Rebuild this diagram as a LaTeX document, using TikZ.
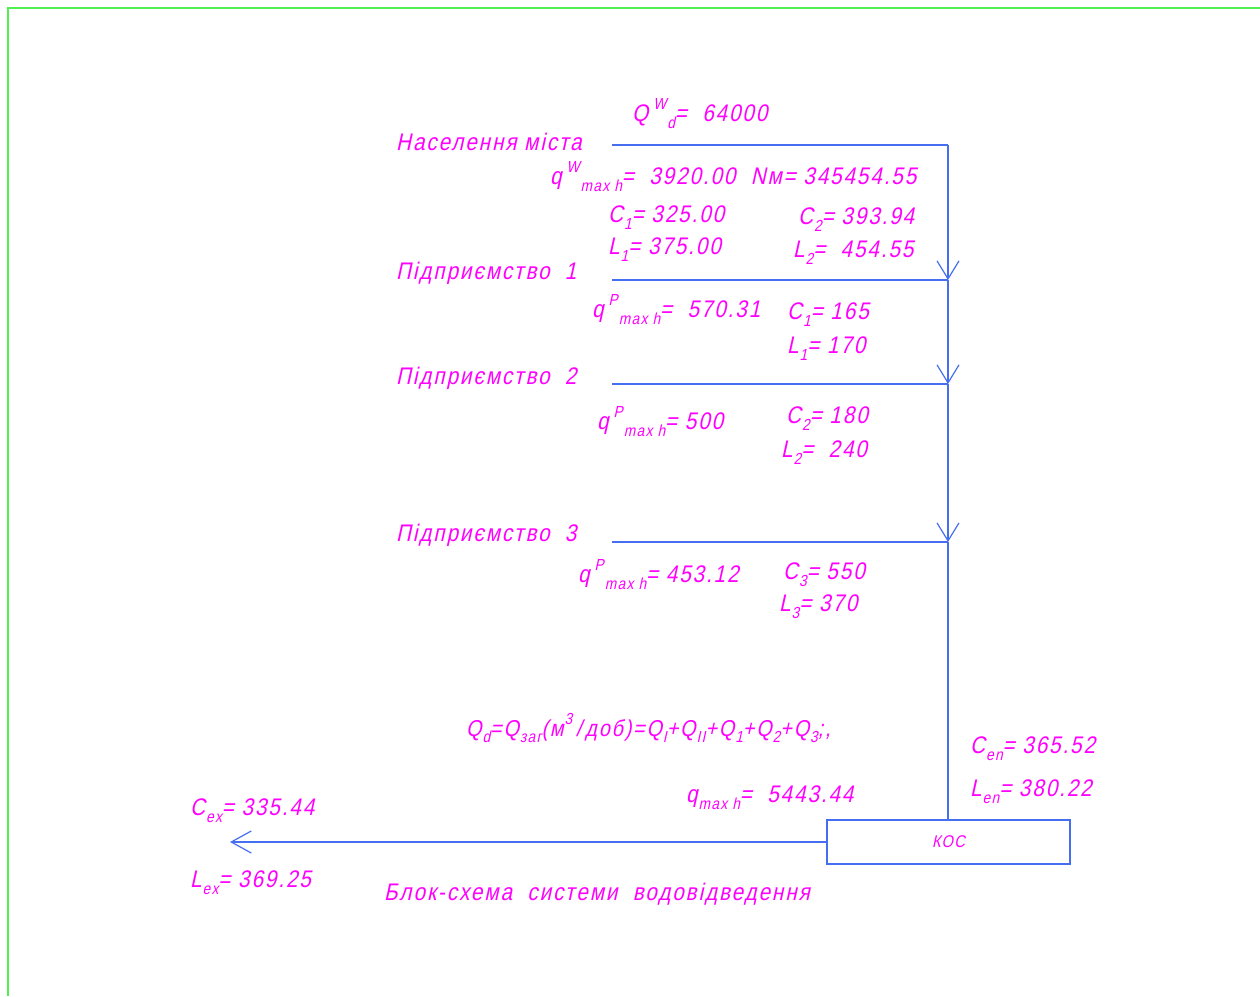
\documentclass[tikz,border=0pt]{standalone}
\usepackage{fontspec}
\usetikzlibrary{arrows.meta}
\newfontfamily\cad[FakeSlant=0.22,FakeStretch=0.86,LetterSpace=8]{Liberation Sans}
\definecolor{mag}{RGB}{255,0,255}
\definecolor{lblue}{RGB}{70,110,240}
\definecolor{fgreen}{RGB}{80,240,80}
\newcommand{\lo}[1]{\kern1pt\raisebox{-0.3em}{\fontsize{16}{16}\selectfont #1}}
\newcommand{\hi}[1]{\kern1pt\raisebox{0.5em}{\fontsize{16}{16}\selectfont #1}}
\tikzset{
  lbl/.style={text=mag, font=\cad\fontsize{24}{24}\selectfont, inner sep=0pt, anchor=base west},
  lbls/.style={lbl, font=\cad\fontsize{23}{23}\selectfont},
  pipe/.style={draw=lblue, line width=1.2pt},
  vtip/.style={-{Straight Barb[length=18pt,width=22pt,line width=1.2pt]}},
  frame/.style={draw=fgreen, line width=2pt}
}
\begin{document}
\begin{tikzpicture}[x=1pt,y=-1pt]
\useasboundingbox (0,0) rectangle (1260,996);
\draw[frame] (8,996) -- (8,8) -- (1260,8);

% junction coordinates
\coordinate (t0) at (948,145);
\coordinate (j1) at (948,280);
\coordinate (j2) at (948,384);
\coordinate (j3) at (948,542);
\coordinate (s0) at (612,145);
\coordinate (s1) at (612,280);
\coordinate (s2) at (612,384);
\coordinate (s3) at (612,542);
\coordinate (out) at (230,842);

\node[draw=lblue, line width=1.2pt, minimum width=243pt, minimum height=44pt, inner sep=0pt,
      text=mag, font=\cad\fontsize{17}{17}\selectfont] (kos) at (948.5,842) {КОС};

\draw[pipe] (s0) -- (t0);
\draw[pipe] (s1) -- (j1);
\draw[pipe] (s2) -- (j2);
\draw[pipe] (s3) -- (j3);
\draw[pipe,vtip] (t0) -- (j1);
\draw[pipe,vtip] (j1) -- (j2);
\draw[pipe,vtip] (j2) -- (j3);
\draw[pipe] (j3) -- (kos.north -| j3);
\draw[pipe,-{Straight Barb[length=20pt,width=22pt,line width=1.2pt]}] (kos.west) -- (out);

% labels
\node[lbl] (qwd) at (632,121) {Q\,\hi{W}\lo{d}= \ 64000};
\node[lbl] (nas) at (396,150) {Населення міста};
\node[lbl] (qwmax) at (550,184) {q\,\hi{W}\lo{max h}= \ 3920.00 \ Nм= 345454.55};
\node[lbl] (c1a) at (608,222) {C\lo{1}= 325.00};
\node[lbl] (l1a) at (608,254) {L\lo{1}= 375.00};
\node[lbl] (c2a) at (798,224) {C\lo{2}= 393.94};
\node[lbl] (l2a) at (793,257) {L\lo{2}= \ 454.55};

\node[lbl] (p1) at (396,279) {Підприємство \ 1};
\node[lbl] (q1) at (592,317) {q\,\hi{P}\lo{max h}= \ 570.31};
\node[lbl] (c1b) at (787,319) {C\lo{1}= 165};
\node[lbl] (l1b) at (787,353) {L\lo{1}= 170};

\node[lbl] (p2) at (396,384) {Підприємство \ 2};
\node[lbl] (q2) at (597,429) {q\,\hi{P}\lo{max h}= 500};
\node[lbl] (c2b) at (786,423) {C\lo{2}= 180};
\node[lbl] (l2b) at (781,457) {L\lo{2}= \ 240};

\node[lbl] (p3) at (396,541) {Підприємство \ 3};
\node[lbl] (q3) at (578,582) {q\,\hi{P}\lo{max h}= 453.12};
\node[lbl] (c3) at (783,579) {C\lo{3}= 550};
\node[lbl] (l3) at (779,611) {L\lo{3}= 370};

\node[lbls] (form) at (466,736) {Q\lo{d}=Q\lo{заг}(м\hi{3}\,/\,доб)=Q\lo{I}+Q\lo{II}+Q\lo{1}+Q\lo{2}+Q\lo{3};,};
\node[lbl] (cen) at (970,753) {C\lo{en}= 365.52};
\node[lbl] (len) at (970,796) {L\lo{en}= 380.22};
\node[lbl] (qmax) at (686,802) {q\lo{max h}= \ 5443.44};
\node[lbl] (cex) at (190,815) {C\lo{ex}= 335.44};
\node[lbl] (lex) at (190,887) {L\lo{ex}= 369.25};
\node[lbl] (title) at (384,900) {Блок-схема \ системи \ водовідведення};
\end{tikzpicture}
\end{document}
